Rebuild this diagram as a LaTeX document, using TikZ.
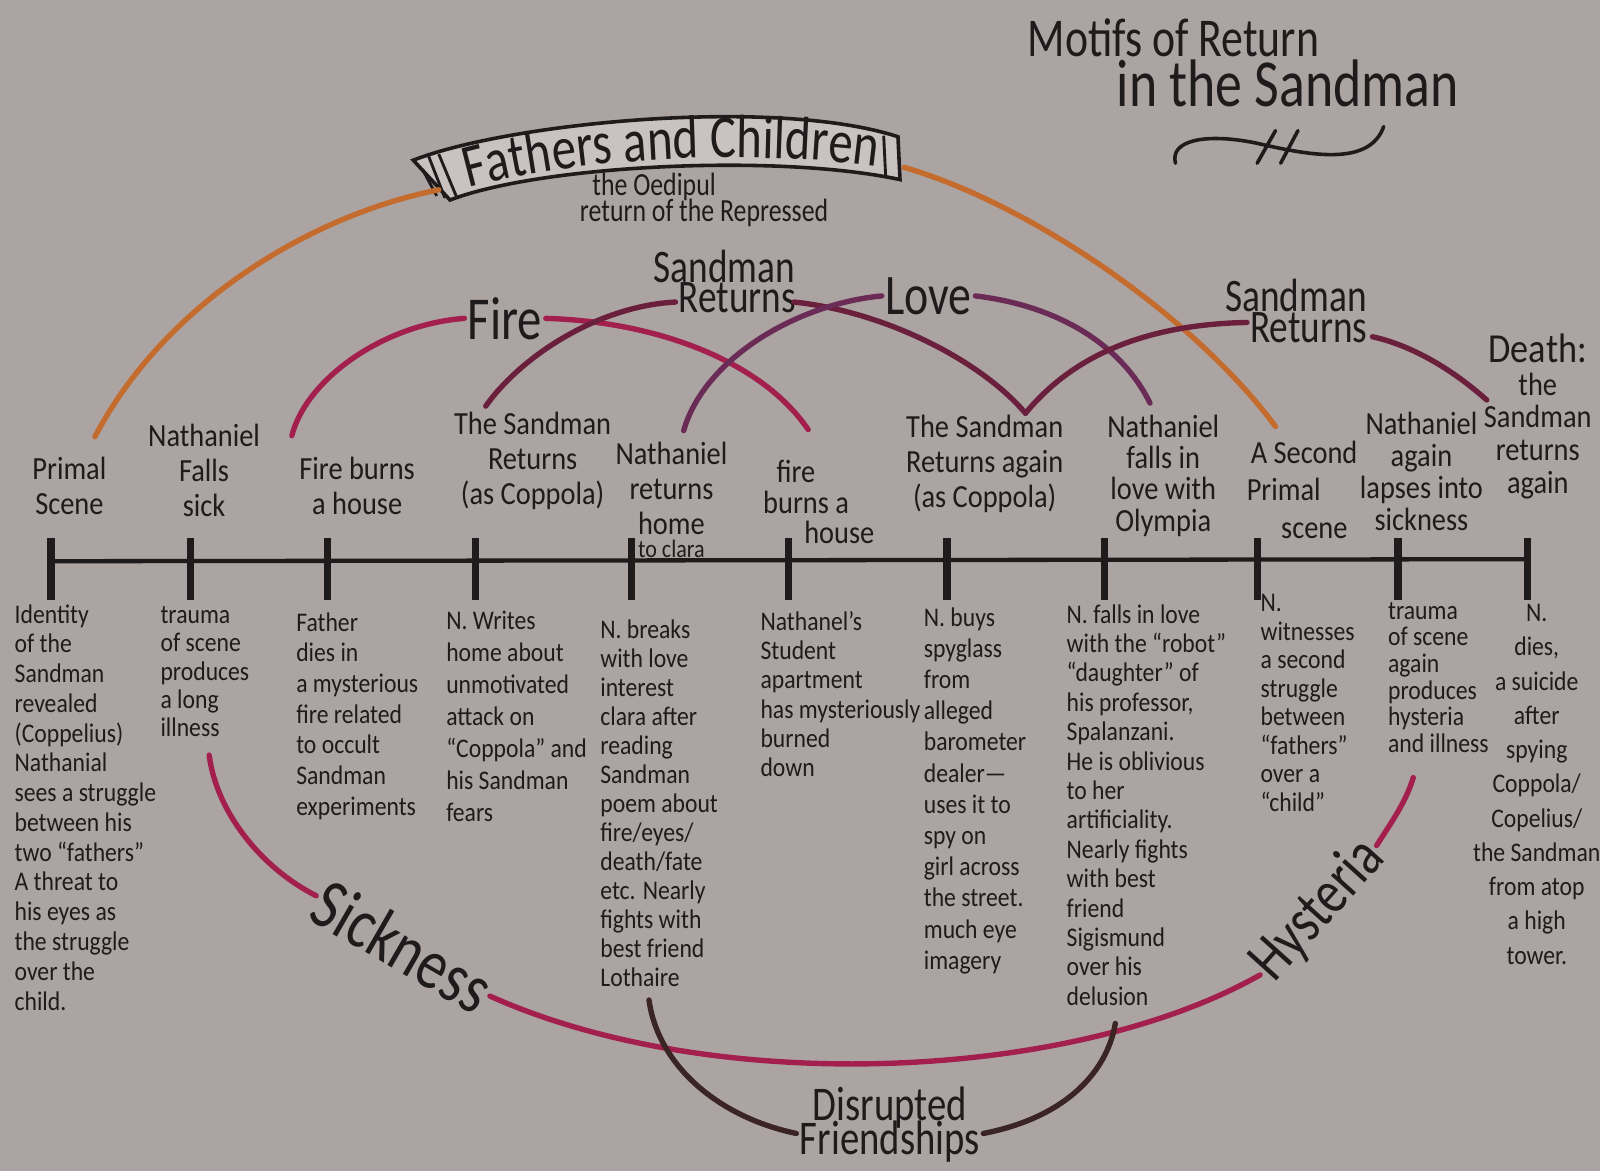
\documentclass[tikz,border=0pt]{standalone}
\usepackage{fontspec}
\setmainfont{Carlito}[FakeStretch=0.8]
\newfontfamily\handfont{Carlito}[Ligatures=TeX, FakeStretch=0.88]
\usepackage{xcolor}
\usetikzlibrary{decorations.text}

\definecolor{paper}{HTML}{ACA4A3}
\definecolor{ink}{HTML}{1F1A1B}
\definecolor{ochre}{HTML}{C46C2E}
\definecolor{crimson}{HTML}{A3204E}
\definecolor{maroon}{HTML}{6A1F3C}
\definecolor{plum}{HTML}{6A2C56}
\definecolor{brownink}{HTML}{3A2424}
\definecolor{bannerbg}{HTML}{C9C2C0}

\begin{document}
\begin{tikzpicture}[x=0.02cm, y=-0.02cm,
    lbl/.style={font=\handfont\fontsize{18}{19.5}\selectfont, align=center, text=ink, inner sep=0pt},
    note/.style={font=\handfont\fontsize{15}{#1}\selectfont, align=left, anchor=north west, text=ink, inner sep=0pt},
    note/.default=16.5,
    motif/.style={font=\fontsize{#1}{#1}\selectfont, align=center, text=ink, inner sep=0pt, outer sep=2pt},
    motifline/.style={line width=3pt, line cap=round},
    tickmark/.style={line width=4pt, ink}]

    \useasboundingbox (0,0) rectangle (1568,1148);
    \fill[paper] (0,0) rectangle (1568,1148);

    \node[motif=30.5] (title1) at (1150,37) {Motifs of Return};
    \node[motif=37.5] (title2) at (1262,82) {in the Sandman};
    \draw[ink, line width=2pt, line cap=round] (1152,160) .. controls (1146,138) and (1180,130) .. (1230,140) .. controls (1282,152) and (1342,164) .. (1356,124);
    \draw[ink, line width=2pt, line cap=round] (1232,160) -- (1250,128) (1255,160) -- (1272,128);

    \draw[ink, line width=2pt, fill=bannerbg] (405,157) .. controls (500,120) and (760,95) .. (880,134) -- (882,176) .. controls (760,150) and (530,162) .. (441,196) -- cycle;
    \draw[ink, line width=1.6pt] (420,153) -- (436,194) (430,151) -- (447,192) (866,133) -- (868,174) (414,166) -- (428,192);
    \path[decorate, decoration={text along path, text align=center, text={|\fontsize{34}{34}\selectfont\color{ink}|Fathers and Children}}] (452,186) .. controls (560,154) and (740,146) .. (866,164);
    \node[motif=18] (oed1) at (641,183) {the Oedipul};
    \node[motif=18] (oed2) at (690,209) {return of the Repressed};
    \coordinate (bl) at (430,186);
    \coordinate (br) at (886,164);

    \draw[line width=2.4pt, ink] (50,550) -- (1497,548);
    \foreach \x in {50,187,321,466,619,773,928,1082,1232,1370,1497}
        \draw[tickmark] (\x,527) -- (\x,588);

    \node[lbl] (ps) at (68,476) {Primal\\Scene};
    \node[lbl] (sick) at (200,461) {Nathaniel\\Falls\\sick};
    \node[lbl] (house1) at (350,476) {Fire burns\\a house};
    \node[lbl] (sr1) at (522,452) {The Sandman\\Returns\\(as Coppola)};
    \node[lbl] (home) at (658,490) {Nathaniel\\returns\\home\\[-7pt]{\fontsize{14}{14}\selectfont to clara}};
    \node[lbl, font=\handfont\fontsize{18}{17}\selectfont] (house2) at (790,492) {\hspace*{-0.4cm}fire\\burns a\\\hspace*{1.3cm}house};
    \node[lbl] (sr2) at (965,455) {The Sandman\\Returns again\\(as Coppola)};
    \node[lbl, font=\handfont\fontsize{18}{17.5}\selectfont] (olympia) at (1140,466) {Nathaniel\\falls in\\love with\\Olympia};
    \node[lbl, font=\handfont\fontsize{18}{21}\selectfont] (ps2) at (1278,480) {A Second\\\hspace*{-0.8cm}Primal\\\hspace*{0.4cm}scene};
    \node[lbl, font=\handfont\fontsize{18}{18}\selectfont] (lapse) at (1393,462) {Nathaniel\\again\\lapses into\\sickness};
    \node[lbl, font=\handfont\fontsize{18}{18.2}\selectfont] (death) at (1507,408) {{\fontsize{23}{23}\selectfont Death:}\\the\\Sandman\\returns\\again};

    \node[note=16.6] (psnote) at (14,592) {Identity\\of the\\Sandman\\revealed\\(Coppelius)\\Nathanial\\sees a struggle\\between his\\two ``fathers''\\A threat to\\his eyes as\\the struggle\\over the\\child.};
    \node[note=15.8] (sicknote) at (157,594) {trauma\\of scene\\produces\\a long\\illness};
    \node[note=17.1] (firenote) at (290,600) {Father\\dies in\\a mysterious\\fire related\\to occult\\Sandman\\experiments};
    \node[note=17.9] (writenote) at (437,598) {N. Writes\\home about\\unmotivated\\attack on\\``Coppola'' and\\his Sandman\\fears};
    \node[note=16.2] (breaknote) at (588,607) {N. breaks\\with love\\interest\\clara after\\reading\\Sandman\\poem about\\fire/eyes/\\death/fate\\etc. Nearly\\fights with\\best friend\\Lothaire};
    \node[note=16.3] (flatnote) at (745,599) {Nathanel's\\Student\\apartment\\has mysteriously\\burned\\down};
    \node[note=17.4] (spynote) at (905,595) {N. buys\\spyglass\\from\\alleged\\barometer\\dealer---\\uses it to\\spy on\\girl across\\the street.\\much eye\\imagery};
    \node[note=16.4] (robotnote) at (1045,592) {N. falls in love\\with the ``robot''\\``daughter'' of\\his professor,\\Spalanzani.\\He is oblivious\\to her\\artificiality.\\Nearly fights\\with best\\friend\\Sigismund\\over his\\delusion};
    \node[note=15.9] (witnessnote) at (1235,582) {N.\\witnesses\\a second\\struggle\\between\\``fathers''\\over a\\``child''};
    \node[note=14.8] (hysnote) at (1360,590) {trauma\\of scene\\again\\produces\\hysteria\\and illness};
    \node[note=19.1, anchor=north, align=center] (deathnote) at (1506,592) {N.\\dies,\\a suicide\\after\\spying\\Coppola/\\Copelius/\\the Sandman\\from atop\\a high\\tower.};

    \node[motif=34] (fire) at (495,312) {Fire};
    \node[motif=26] (sret1) at (710,276) {Sandman\\[-9pt]\hspace*{0.5cm}Returns};
    \node[motif=32] (love) at (910,290) {Love};
    \node[motif=26] (sret2) at (1270,305) {Sandman\\[-9pt]\hspace*{0.5cm}Returns};
    \node[motif=40, rotate=-30] (sickness) at (395,927) {Sickness};
    \node[motif=35, rotate=48] (hysteria) at (1292,892) {Hysteria};
    \node[motif=27] (friends) at (872,1102) {Disrupted\\[-8pt]Friendships};

    \coordinate (o1) at (93,428);
    \coordinate (o2) at (1250,418);
    \coordinate (f1) at (286,427);
    \coordinate (f2) at (792,421);
    \coordinate (s1) at (476,398);
    \coordinate (s1l) at (662,296);
    \coordinate (s1r) at (778,296);
    \coordinate (vee) at (1005,405);
    \coordinate (l1) at (670,422);
    \coordinate (l2) at (1127,395);
    \coordinate (s2l) at (1222,316);
    \coordinate (s2r) at (1345,330);
    \coordinate (d1) at (1457,392);
    \coordinate (k1) at (205,740);
    \coordinate (k2) at (1385,762);
    \coordinate (df1) at (636,980);
    \coordinate (df2) at (1093,1003);

    \draw[motifline, ochre] (o1) .. controls (160,300) and (300,212) .. (bl);
    \draw[motifline, ochre] (br) .. controls (1010,200) and (1170,310) .. (o2);
    \draw[motifline, crimson] (f1) .. controls (300,372) and (375,318) .. (fire.west);
    \draw[motifline, crimson] (fire.east) .. controls (640,315) and (745,352) .. (f2);
    \draw[motifline, maroon] (s1) .. controls (510,350) and (585,300) .. (s1l);
    \draw[motifline, maroon] (s1r) .. controls (865,305) and (960,352) .. (vee);
    \draw[motifline, plum] (l1) .. controls (690,352) and (780,298) .. (love.west);
    \draw[motifline, plum] (love.east) .. controls (1040,300) and (1100,340) .. (l2);
    \draw[motifline, maroon] (vee) .. controls (1050,350) and (1120,318) .. (s2l);
    \draw[motifline, maroon] (s2r) .. controls (1390,340) and (1430,368) .. (d1);
    \draw[motifline, crimson] (k1) .. controls (212,795) and (255,850) .. (sickness.west);
    \draw[motifline, crimson] (sickness.east) .. controls (700,1075) and (1050,1060) .. (hysteria.west);
    \draw[motifline, crimson] (hysteria.east) .. controls (1362,808) and (1378,786) .. (k2);
    \draw[motifline, brownink] (df1) .. controls (645,1045) and (705,1095) .. ([yshift=-5pt]friends.west);
    \draw[motifline, brownink] ([yshift=-5pt]friends.east) .. controls (1045,1095) and (1085,1050) .. (df2);
\end{tikzpicture}
\end{document}
